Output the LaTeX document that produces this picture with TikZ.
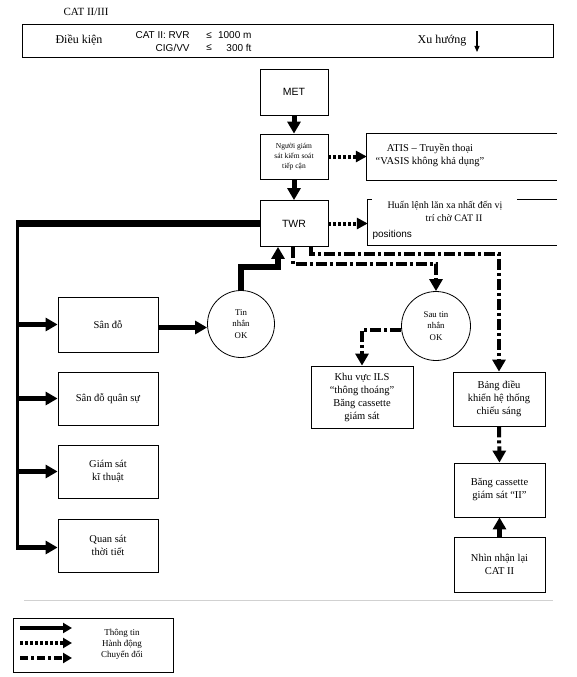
\documentclass[tikz,border=0pt]{standalone}
\usepackage{fontspec}
\setmainfont{Liberation Serif}
\setsansfont{Liberation Sans}
\usetikzlibrary{arrows.meta}
\begin{document}
\begin{tikzpicture}[x=1pt,y=-1pt,
  thinline/.style={line width=0.8pt},
  box/.style={draw, line width=0.8pt, inner sep=1pt, align=center, font=\fontsize{10.5}{13}\selectfont},
  circ/.style={draw, circle, line width=0.8pt, inner sep=0pt, align=center, font=\fontsize{8.8}{11.5}\selectfont},
  info/.style={line width=5pt, -{Triangle[length=12pt,width=13pt]}},
  act/.style={line width=4pt, dash pattern=on 3pt off 2pt, -{Triangle[length=11pt,width=11pt]}},
  conv/.style={line width=4pt, dash pattern=on 11pt off 3pt on 3pt off 3pt, -{Triangle[length=12pt,width=13pt]}},
  sans/.style={font=\sffamily\fontsize{10}{12}\selectfont},
  serif/.style={font=\fontsize{12}{14}\selectfont},
]
\fill[white] (0,0) rectangle (576,677);
\useasboundingbox (0,0) rectangle (576,677);

% header
\node[font=\fontsize{11}{13}\selectfont] (cattitle) at (86,12) {CAT II/III};
\node[draw, thinline, minimum width=531pt, minimum height=33pt, inner sep=0pt] (cond) at (287.5,40.5) {};
\node[serif] (dk) at (79,40.5) {Điều kiện};
\node[sans, anchor=west] (rvr) at (132,35) {CAT II: RVR};
\node[sans, anchor=east] (cig) at (rvr.east |- 0,47.5) {CIG/VV};
\node[sans] (le1) at (209,35) {≤};
\node[sans] (le2) at (209,47.5) {≤};
\node[sans, anchor=east] (v1) at (255,35) {1000 m};
\node[sans, anchor=east] (v2) at (255,47.5) {300 ft};
\node[serif] (xu) at (442,40.5) {Xu hướng};
\coordinate (xua) at (477,31);
\coordinate (xub) at (477,52);
\draw[line width=1.2pt, -{Triangle[length=6pt,width=5pt]}] (xua) -- (xub);

% central column
\node[box, font=\sffamily\fontsize{10.5}{12}\selectfont, minimum width=68pt, minimum height=46pt] (met) at (294,92) {MET};
\node[box, font=\fontsize{7.5}{10}\selectfont, minimum width=68pt, minimum height=45pt] (ng) at (294,156.5) {Người giám\\sát kiểm soát\\tiếp cận};
\node[box, font=\sffamily\fontsize{10.5}{12}\selectfont, minimum width=68pt, minimum height=46pt] (twr) at (294,223.5) {TWR};

\draw[info] (met.south) -- (ng.north);
\draw[info] (ng.south) -- (twr.north);

% ATIS box (open at right)
\node[minimum width=190pt, minimum height=46pt, inner sep=0pt] (atis) at (462,157) {};
\draw[thinline] (atis.north east) -- (atis.north west) -- (atis.south west) -- (atis.south east);
\node[font=\fontsize{10.5}{12.5}\selectfont, align=center] (atistext) at (430,155.5) {ATIS – Truyền thoại\\“VASIS không khả dụng”};
\draw[act] (ng.east) -- (ng.east -| atis.west);

% Huan lenh box
\node[minimum width=189pt, minimum height=45pt, inner sep=0pt] (huan) at (462.5,222.5) {};
\draw[thinline] ([xshift=4pt]huan.north west) -- (huan.north west) -- (huan.south west) -- (huan.south east);
\draw[thinline] ([xshift=-40pt]huan.north east) -- (huan.north east);
\node[font=\fontsize{10}{12}\selectfont] (huan1) at (445,206) {Huấn lệnh lăn xa nhất đến vị};
\node[font=\fontsize{10}{12}\selectfont] (huan2) at (454,218) {trí chờ CAT II};
\node[font=\sffamily\fontsize{10}{12}\selectfont, anchor=west] (pos) at (369,235) {positions};
\draw[act] (twr.east) -- (twr.east -| huan.west);

% left boxes
\node[box, minimum width=100pt, minimum height=55pt] (sando) at (108,324.5) {Sân đỗ};
\node[box, minimum width=100pt, minimum height=53pt] (sdqs) at (108,398.5) {Sân đỗ quân sự};
\node[box, minimum width=100pt, minimum height=53pt] (gskt) at (108,471.5) {Giám sát\\kĩ thuật};
\node[box, minimum width=100pt, minimum height=53pt] (qstt) at (108,545.5) {Quan sát\\thời tiết};

% bus
\coordinate (bustop) at (16,223.5);
\coordinate (busv1) at (17.5,220);
\coordinate (busv2) at (17.5,550);
\draw[line width=7pt] (twr.west) -- (bustop);
\draw[line width=3.5pt] (busv1) -- (busv2);
\draw[info] (sando.west -| busv1) -- (sando.west);
\draw[info] (sdqs.west -| busv1) -- (sdqs.west);
\draw[info] (gskt.west -| busv1) -- (gskt.west);
\draw[info] ([yshift=-2pt]qstt.west -| busv1) -- ([yshift=-2pt]qstt.west);

% circles
\node[circ, minimum size=67pt] (tin) at (241,324) {Tin\\nhắn\\OK};
\node[circ, minimum size=69pt] (sau) at (436,326) {Sau tin\\nhắn\\OK};
\draw[info] ([yshift=-3pt]sando.east) -- ([yshift=-3pt]sando.east -| tin.west);
\coordinate (tinbend) at (278,267);
\draw[info, line width=6pt] (tin.north) |- (tinbend) -- (tinbend |- twr.south);

% right-side boxes
\node[box, minimum width=102pt, minimum height=62pt] (khu) at (362,397) {Khu vực ILS\\“thông thoáng”\\Băng cassette\\giám sát};
\node[box, minimum width=92pt, minimum height=54pt] (bang) at (499,399) {Bảng điều\\khiển hệ thống\\chiếu sáng};
\node[box, minimum width=91pt, minimum height=54pt] (bc) at (499.5,490) {Băng cassette\\giám sát “II”};
\node[box, minimum width=91pt, minimum height=55pt] (nhin) at (499.5,564.5) {Nhìn nhận lại\\CAT II};

% dash-dot conversions
\coordinate (dd1) at (293,264);
\coordinate (dd2) at (311,254);
\draw[conv] (dd1 |- twr.south) -- (dd1) -| (sau.north);
\draw[conv] (dd2 |- twr.south) -- (dd2) -| (bang.north);
\draw[conv] ([yshift=-4pt]sau.west) -| (khu.north);
\draw[conv] (bang.south) -- (bc.north);
\draw[info] (nhin.north) -- (bc.south);

% faint page line
\coordinate (pl1) at (24,600);
\coordinate (pl2) at (553,600);
\draw[black!18, line width=0.6pt] (pl1) -- (pl2);

% legend
\node[draw, thinline, minimum width=160pt, minimum height=54pt, inner sep=0pt] (leg) at (93,645) {};
\coordinate (l1a) at (20,628); \coordinate (l1b) at (72,628);
\coordinate (l2a) at (20,643); \coordinate (l2b) at (72,643);
\coordinate (l3a) at (20,658); \coordinate (l3b) at (72,658);
\draw[line width=3.5pt, -{Triangle[length=9pt,width=10pt]}] (l1a) -- (l1b);
\draw[line width=3.5pt, dash pattern=on 3pt off 2pt, -{Triangle[length=9pt,width=10pt]}] (l2a) -- (l2b);
\draw[line width=3.5pt, dash pattern=on 8pt off 3pt on 3pt off 3pt, -{Triangle[length=9pt,width=10pt]}] (l3a) -- (l3b);
\node[font=\fontsize{9}{11}\selectfont, align=center] (legtext) at (122,644) {Thông tin\\Hành động\\Chuyển đổi};
\end{tikzpicture}
\end{document}
